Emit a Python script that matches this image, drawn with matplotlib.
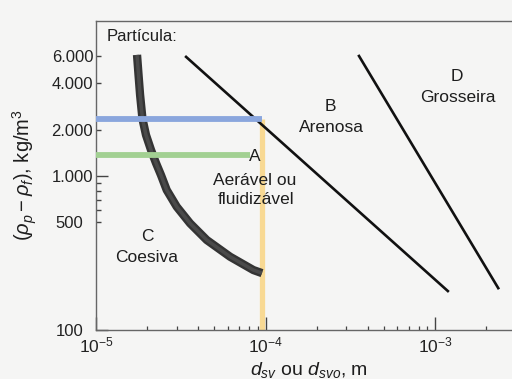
import matplotlib
matplotlib.use("Agg")
import matplotlib.pyplot as plt
from matplotlib.ticker import FixedLocator, FixedFormatter, NullFormatter

plt.rcParams["font.family"] = ["Liberation Sans", "DejaVu Sans"]
plt.rcParams["mathtext.fontset"] = "custom"
plt.rcParams["mathtext.rm"] = "Liberation Sans"
plt.rcParams["mathtext.it"] = "Liberation Sans:italic"

# boundary between C (coesiva) and A (aeravel) - diameter in m, density diff in kg/m3
curve_ca_x = [1.746e-5, 1.782e-5, 1.820e-5, 1.880e-5, 1.972e-5, 2.111e-5,
              2.258e-5, 2.417e-5, 2.612e-5, 2.992e-5, 3.586e-5, 4.50e-5,
              6.18e-5, 8.48e-5, 9.53e-5]
curve_ca_y = [6110, 4530, 3357, 2344, 1845, 1475, 1214, 1014, 811, 632, 493,
              384, 299, 245, 234]

# straight boundaries A/B and B/D
line_ab_x = [3.40e-5, 1.19e-3]
line_ab_y = [5930, 179]
line_bd_x = [3.56e-4, 2.36e-3]
line_bd_y = [6010, 187]

# highlighted densities and diameter
blue_y = 2350
blue_x_end = 9.5e-5
green_y = 1370
green_x_end = 8.1e-5
yellow_x = 9.5e-5

ytick_major = [100, 1000]
ytick_major_labels = ["100", "1.000"]
ytick_minor = [500, 600, 700, 800, 900, 2000, 4000, 6000]
ytick_minor_labels = ["500", "", "", "", "", "2.000", "4.000", "6.000"]

bg = "#f5f5f4"
fig = plt.figure(figsize=(5.12, 3.79), dpi=100, facecolor=bg)
ax = fig.add_axes([96 / 512, 1 - 330 / 379, 416 / 512, 309 / 379], facecolor=bg)

ax.set_xscale("log")
ax.set_yscale("log")
ax.set_xlim(1e-5, 10 ** -2.546)
ax.set_ylim(100, 10 ** 4.006)

# coloured markers for density / diameter
ax.plot([yellow_x, yellow_x], [100, blue_y], color="#f8d993", lw=3.8,
        solid_capstyle="butt", zorder=2)
ax.plot([1e-5, blue_x_end], [blue_y, blue_y], color="#8aa6dd", lw=4.2,
        solid_capstyle="butt", zorder=4)
ax.plot([1e-5, green_x_end], [green_y, green_y], color="#a2d092", lw=4.2,
        solid_capstyle="butt", zorder=4)

# thick C/A boundary
ax.plot(curve_ca_x, curve_ca_y, color="#343434", lw=6.0, solid_capstyle="butt",
        solid_joinstyle="round", zorder=3)
ax.plot(curve_ca_x, curve_ca_y, color="#4a4a4a", lw=2.5, solid_capstyle="butt",
        solid_joinstyle="round", zorder=3)

ax.plot(line_ab_x, line_ab_y, color="#111111", lw=1.9, zorder=3)
ax.plot(line_bd_x, line_bd_y, color="#111111", lw=1.9, zorder=3)

# axes frame
for s in ["left", "bottom", "top"]:
    ax.spines[s].set_color("#666666")
    ax.spines[s].set_linewidth(1.0)
ax.spines["right"].set_visible(False)

ax.xaxis.set_major_locator(FixedLocator([1e-5, 1e-4, 1e-3]))
ax.xaxis.set_major_formatter(FixedFormatter([r"$10^{-5}$", r"$10^{-4}$", r"$10^{-3}$"]))
xminor = [k * 1e-5 for k in range(2, 10)] + [k * 1e-4 for k in range(2, 10)] + [2e-3]
ax.xaxis.set_minor_locator(FixedLocator(xminor))
ax.xaxis.set_minor_formatter(NullFormatter())

ax.yaxis.set_major_locator(FixedLocator(ytick_major))
ax.yaxis.set_major_formatter(FixedFormatter(ytick_major_labels))
ax.yaxis.set_minor_locator(FixedLocator(ytick_minor))
ax.yaxis.set_minor_formatter(FixedFormatter(ytick_minor_labels))

ax.tick_params(axis="x", which="major", direction="in", length=9.5, width=1.0,
               color="#444444", labelsize=12.5, pad=4, labelcolor="#222222")
ax.tick_params(axis="x", which="minor", direction="in", length=3, width=0.9,
               color="#444444")
ax.tick_params(axis="y", which="major", direction="in", length=8.5, width=1.0,
               color="#444444", labelsize=12, pad=2, labelcolor="#222222")
ax.tick_params(axis="y", which="minor", direction="in", length=3.6, width=1.0,
               color="#444444", labelsize=12, pad=2, labelcolor="#222222")
ax.tick_params(top=False, right=False, which="both")

# 100 and 500 sit further out from the axis
ax.yaxis.get_major_ticks()[0].set_pad(9)
ax.yaxis.get_minor_ticks()[0].set_pad(9)

# region labels
txt = dict(transform=ax.transAxes, ha="center", va="center", fontsize=12.5,
           color="#1e1e1e", zorder=5)
ax.text(0.026, 0.951, "Partícula:", transform=ax.transAxes, ha="left",
        va="center", fontsize=12, color="#1e1e1e")
ax.text(0.868, 0.819, "D", **txt)
ax.text(0.870, 0.754, "Grosseira", **txt)
ax.text(0.5625, 0.722, "B", **txt)
ax.text(0.567, 0.654, "Arenosa", **txt)
ax.text(0.382, 0.560, "A", **txt)
ax.text(0.382, 0.485, "Aerável ou", **txt)
ax.text(0.384, 0.421, "fluidizável", **txt)
ax.text(0.1226, 0.301, "C", **txt)
ax.text(0.1226, 0.236, "Coesiva", **txt)

fig.text(309 / 512, 1 - 370 / 379, r"$d_{sv}$ ou $d_{svo}$, m", ha="center",
         va="center", fontsize=14, color="#1e1e1e")
fig.text(25 / 512, 1 - 175 / 379, r"$(\rho_p - \rho_f)$, kg/m$^3$", ha="center",
         va="center", rotation=90, fontsize=14.5, color="#1e1e1e")

fig.savefig("out.png", dpi=100, facecolor=bg)
